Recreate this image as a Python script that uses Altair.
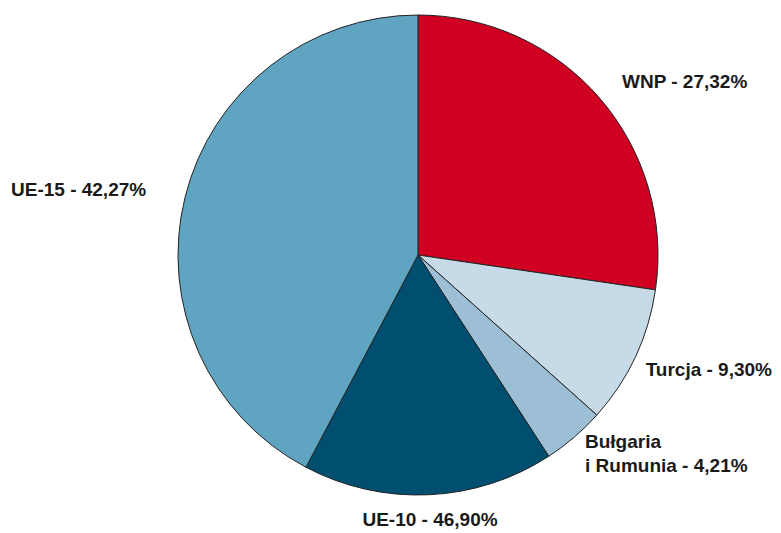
import altair as alt
import pandas as pd

categories = ["WNP", "Turcja", "Bułgaria i Rumunia", "UE-10", "UE-15"]
values = [27.32, 9.30, 4.21, 16.90, 42.27]
labels = ["WNP - 27,32%", "Turcja - 9,30%", "Bułgaria\ni Rumunia - 4,21%", "UE-10 - 46,90%", "UE-15 - 42,27%"]
colors = ["#CF0022", "#C6DAE8", "#9DBFD5", "#004F71", "#5FA4C1"]

df = pd.DataFrame({"cat": categories, "val": values, "order": list(range(len(categories)))})

CX, CY, R = 410, 247, 240

pie = alt.Chart(df).mark_arc(stroke="#222222", strokeWidth=1, radius=R).encode(
    theta=alt.Theta("val:Q", stack=True),
    order=alt.Order("order:Q"),
    color=alt.Color("cat:N", scale=alt.Scale(domain=categories, range=colors), legend=None),
    x=alt.value(CX),
    y=alt.value(CY),
)

FONT = "Liberation Sans"
def lab(text, x, y, align="left"):
    d = pd.DataFrame({"t": [text]})
    return alt.Chart(d).mark_text(
        font=FONT, fontSize=19, fontWeight="bold", color="#1a1a1a",
        align=align, baseline="middle", lineHeight=24,
    ).encode(text="t:N", x=alt.value(x), y=alt.value(y))

layers = [
    lab(labels[0].split("\n"), 614, 74),
    lab(labels[1].split("\n"), 764, 362, align="right"),
    lab(labels[2].split("\n"), 577, 434),
    lab(labels[3].split("\n"), 422, 512, align="center"),
    lab(labels[4].split("\n"), 3, 182),
]

chart = alt.layer(pie, *layers).properties(
    width=765, height=524, padding=0, autosize="none"
).configure_view(stroke=None)

chart.save("out.html", embed_options={"renderer": "svg", "actions": False})
